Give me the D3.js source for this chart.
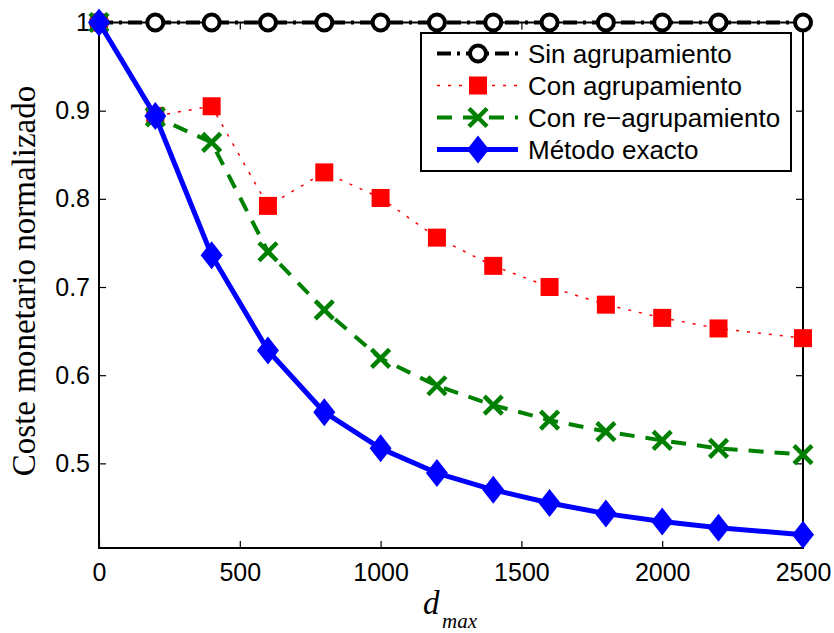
<!DOCTYPE html>
<html>
<head>
<meta charset="utf-8">
<script src="https://cdn.jsdelivr.net/npm/d3@7"></script>
<style>
  html, body { margin: 0; padding: 0; background: #fff; }
  svg { display: block; }
</style>
</head>
<body>
<svg id="chart" width="834" height="633"></svg>
<script>
// d_max values sampled along the horizontal axis
const dmax = [0, 200, 400, 600, 800, 1000, 1200, 1400, 1600, 1800, 2000, 2200, 2500];

// Normalized monetary cost per method
const sinAgrupamiento   = [1, 1, 1, 1, 1, 1, 1, 1, 1, 1, 1, 1, 1];
const conAgrupamiento   = [1, 0.894, 0.905, 0.792, 0.830, 0.801, 0.756, 0.724, 0.700, 0.680, 0.665, 0.653, 0.642];
const conReagrupamiento = [1, 0.893, 0.864, 0.740, 0.674, 0.619, 0.588, 0.566, 0.549, 0.536, 0.526, 0.517, 0.510];
const metodoExacto      = [1, 0.894, 0.736, 0.628, 0.558, 0.517, 0.489, 0.470, 0.455, 0.443, 0.434, 0.427, 0.419];

const seriesNames = ["Sin agrupamiento", "Con agrupamiento", "Con re\u2212agrupamiento", "M\u00e9todo exacto"];
const xTicks = [0, 500, 1000, 1500, 2000, 2500];
const yTicks = [0.5, 0.6, 0.7, 0.8, 0.9, 1];

const svg = d3.select("#chart");
const plotLeft = 99, plotRight = 803, plotTop = 22.5, plotBottom = 548;

const x = d3.scaleLinear().domain([0, 2500]).range([plotLeft, plotRight]);
const y = d3.scaleLinear().domain([0.404, 1]).range([plotBottom, plotTop]);

const sansFont = "'Liberation Sans', Arial, Helvetica, sans-serif";
const serifFont = "'Liberation Serif', 'Times New Roman', serif";

// Axes (box with inward ticks on all four sides)
function styleAxis(g) {
  g.select(".domain").remove();
  g.selectAll(".tick line").attr("stroke", "#000").attr("stroke-width", 1.2);
  g.selectAll("text").attr("font-family", sansFont).attr("font-size", 25).attr("fill", "#000");
}

svg.append("g").attr("transform", `translate(0,${plotBottom})`)
  .call(d3.axisBottom(x).tickValues(xTicks).tickSize(-7).tickPadding(15).tickFormat(d3.format("d")))
  .call(styleAxis);
svg.append("g").attr("transform", `translate(0,${plotTop})`)
  .call(d3.axisTop(x).tickValues(xTicks).tickSize(-7).tickFormat(""))
  .call(styleAxis);
svg.append("g").attr("transform", `translate(${plotLeft},0)`)
  .call(d3.axisLeft(y).tickValues(yTicks).tickSize(-7).tickPadding(9)
    .tickFormat(d => d === 1 ? "1" : d.toFixed(1)))
  .call(styleAxis);
svg.append("g").attr("transform", `translate(${plotRight},0)`)
  .call(d3.axisRight(y).tickValues(yTicks).tickSize(-7).tickFormat(""))
  .call(styleAxis);

svg.append("rect")
  .attr("x", plotLeft).attr("y", plotTop)
  .attr("width", plotRight - plotLeft).attr("height", plotBottom - plotTop)
  .attr("fill", "none").attr("stroke", "#000").attr("stroke-width", 2);

// Axis titles
svg.append("text")
  .attr("transform", "translate(35,281) rotate(-90)")
  .attr("text-anchor", "middle")
  .attr("font-family", serifFont).attr("font-size", 33)
  .text("Coste monetario normalizado");

const xt = svg.append("text")
  .attr("x", 423).attr("y", 614)
  .attr("font-family", serifFont).attr("font-style", "italic").attr("font-size", 33);
xt.append("tspan").text("d");
xt.append("tspan").attr("x", 442).attr("y", 628).attr("font-size", 21).text("max");

// Series styles
const styles = [
  { values: sinAgrupamiento,   color: "#000",    width: 4,   dash: "14,6,3,6", marker: "circle" },
  { values: conAgrupamiento,   color: "#ff0000", width: 1.5, dash: "3,8",      marker: "square" },
  { values: conReagrupamiento, color: "#008000", width: 4,   dash: "15,11",    marker: "cross" },
  { values: metodoExacto,      color: "#0000ff", width: 5,   dash: null,       marker: "diamond" }
];

function drawMarker(g, type, color) {
  if (type === "circle") {
    g.append("circle").attr("r", 8).attr("fill", "#fff")
      .attr("stroke", color).attr("stroke-width", 4);
  } else if (type === "square") {
    g.append("rect").attr("x", -9).attr("y", -9).attr("width", 18).attr("height", 18)
      .attr("fill", color);
  } else if (type === "cross") {
    g.append("path").attr("d", "M-9,-9L9,9M-9,9L9,-9")
      .attr("stroke", color).attr("stroke-width", 4.5).attr("fill", "none");
  } else if (type === "diamond") {
    g.append("path").attr("d", "M0,-14L11,0L0,14L-11,0Z").attr("fill", color);
  }
}

const line = d3.line().x(d => x(d[0])).y(d => y(d[1]));

styles.forEach(s => {
  const pts = dmax.map((d, i) => [d, s.values[i]]);
  svg.append("path").datum(pts)
    .attr("d", line)
    .attr("fill", "none")
    .attr("stroke", s.color)
    .attr("stroke-width", s.width)
    .attr("stroke-dasharray", s.dash)
    .attr("stroke-linejoin", "round");
  pts.forEach(p => {
    const g = svg.append("g").attr("transform", `translate(${x(p[0])},${y(p[1])})`);
    drawMarker(g, s.marker, s.color);
  });
});

// Legend
const lg = svg.append("g").attr("transform", "translate(421,33)");
lg.append("rect").attr("width", 370).attr("height", 138)
  .attr("fill", "#fff").attr("stroke", "#000").attr("stroke-width", 2);
styles.forEach((s, i) => {
  const ry = 20.5 + i * 32;
  lg.append("line").attr("x1", 16).attr("x2", 97).attr("y1", ry).attr("y2", ry)
    .attr("stroke", s.color).attr("stroke-width", s.width)
    .attr("stroke-dasharray", s.dash);
  const g = lg.append("g").attr("transform", `translate(57,${ry})`);
  drawMarker(g, s.marker, s.color);
  lg.append("text").attr("x", 107).attr("y", ry).attr("dy", "0.36em")
    .attr("font-family", sansFont).attr("font-size", 26)
    .text(seriesNames[i]);
});
</script>
</body>
</html>
